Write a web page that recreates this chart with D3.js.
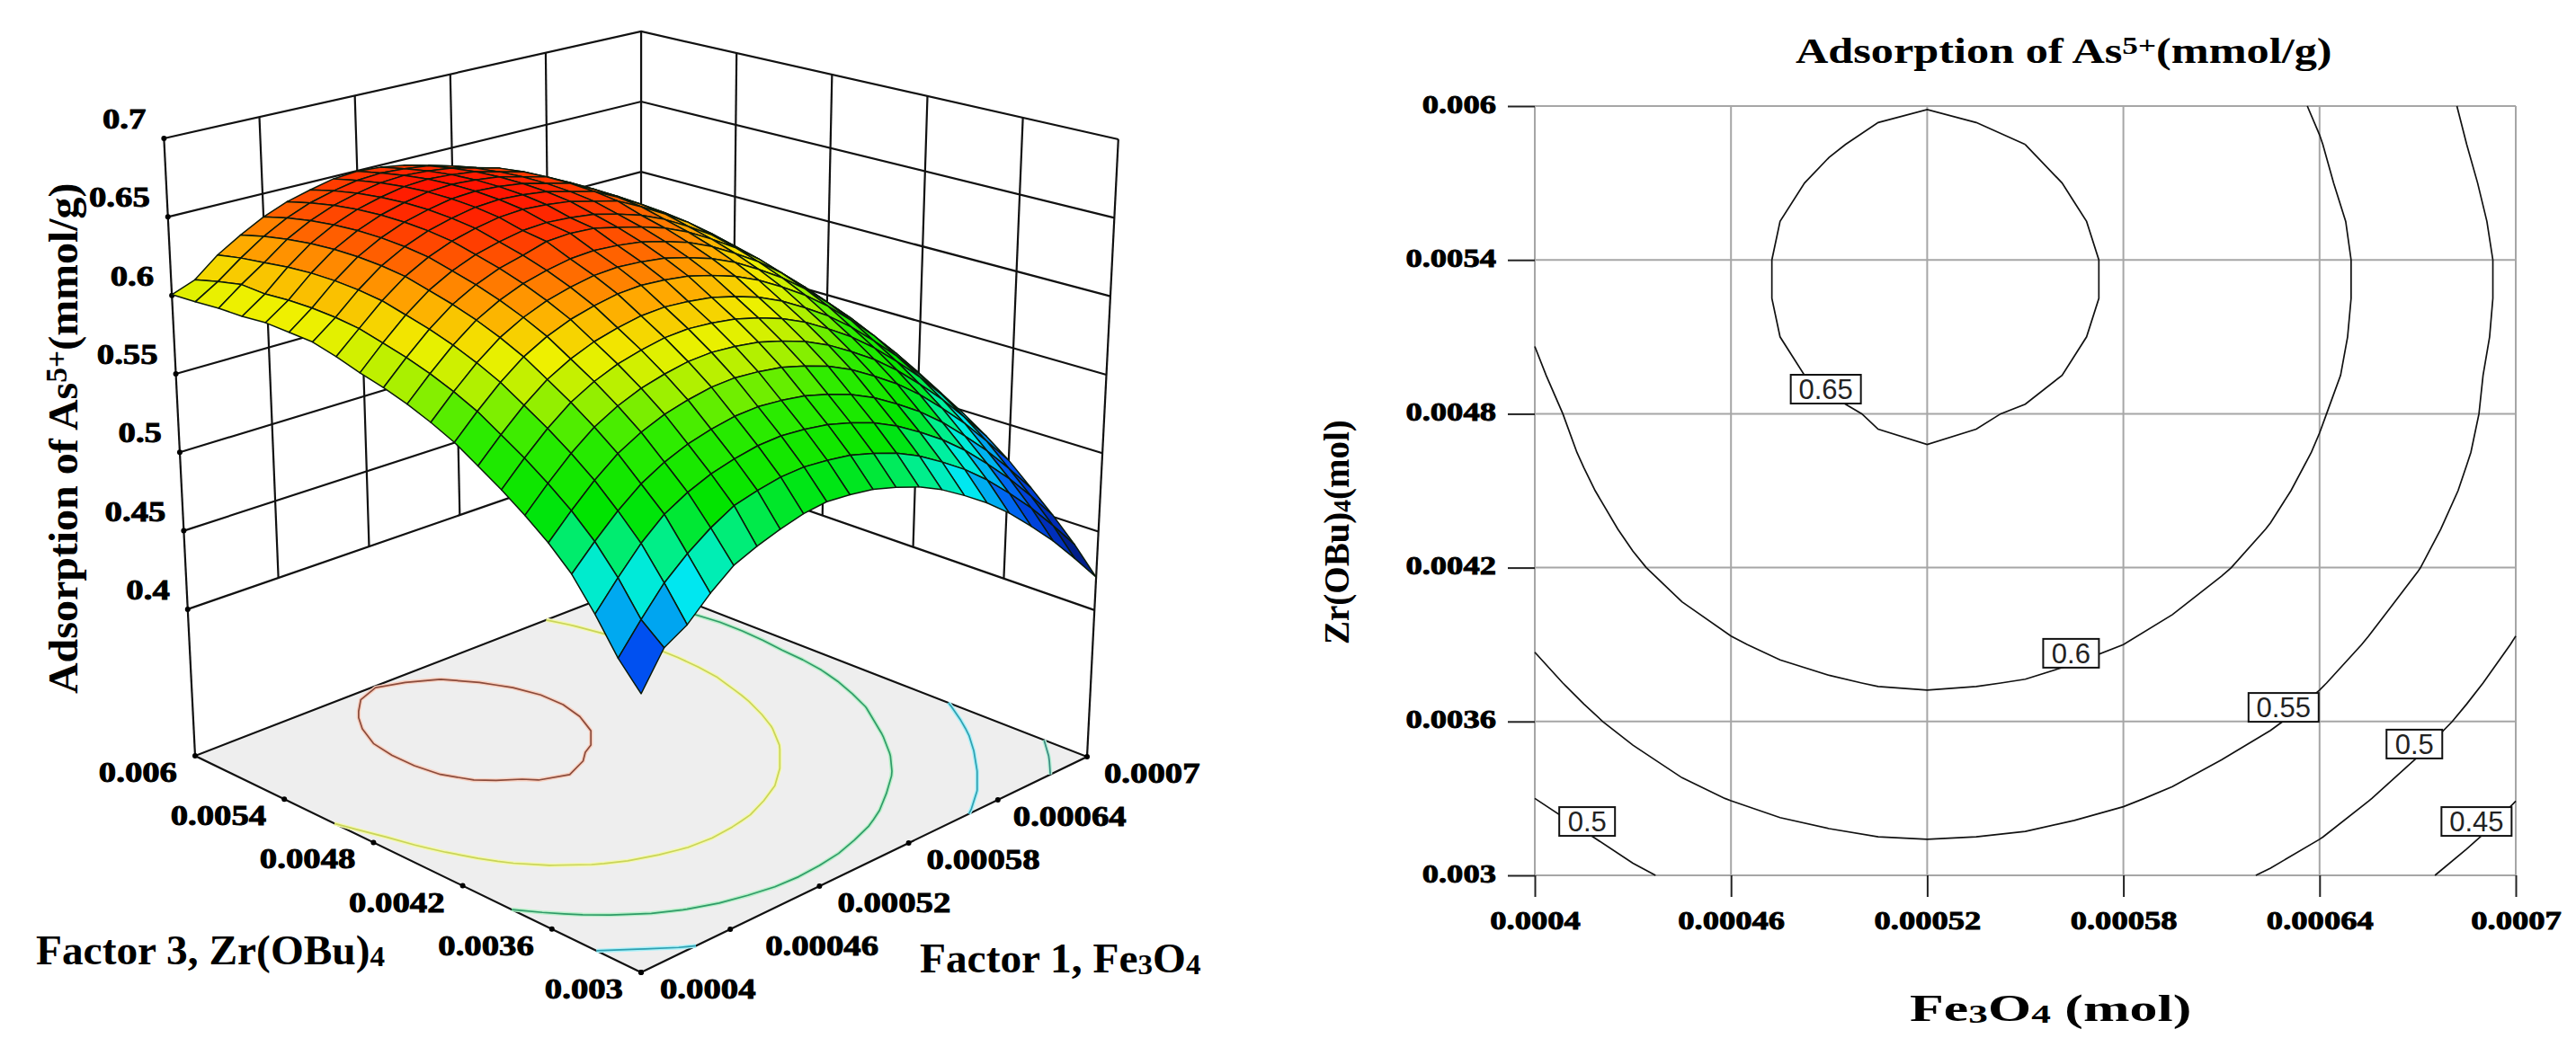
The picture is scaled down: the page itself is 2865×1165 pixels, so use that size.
<!DOCTYPE html>
<html>
<head>
<meta charset="utf-8">
<style>
  body { margin: 0; background: #fff; }
  text { font-family: "Liberation Serif", serif; font-weight: bold; fill: #000; }
</style>
<script src="https://cdn.jsdelivr.net/npm/d3@7"></script>
</head>
<body>
<svg id="chart" width="2865" height="1165"></svg>
<script>
// axis ticks
const feTicks = [0.0004, 0.00046, 0.00052, 0.00058, 0.00064, 0.0007];
const zrTicks = [0.003, 0.0036, 0.0042, 0.0048, 0.0054, 0.006];
const responseTicks = [0.4, 0.45, 0.5, 0.55, 0.6, 0.65, 0.7];
const feLabels = ["0.0004", "0.00046", "0.00052", "0.00058", "0.00064", "0.0007"];
const zrLabels = ["0.003", "0.0036", "0.0042", "0.0048", "0.0054", "0.006"];
const responseLabels = ["0.4", "0.45", "0.5", "0.55", "0.6", "0.65", "0.7"];

// response, 21 x 21 grid
// rows run from Zr = 0.003 up to 0.006, columns from Fe = 0.0004 to 0.0007
const surfaceRows = [
  [.465,.486,.494,.507,.518,.524,.529,.533,.535,.534,.532,.528,.523,.516,.507,.497,.485,.471,.456,.439,.421],
  [.480,.497,.513,.525,.535,.543,.547,.550,.551,.550,.548,.544,.539,.532,.523,.513,.501,.487,.472,.455,.437],
  [.500,.516,.531,.543,.551,.557,.561,.564,.565,.564,.562,.558,.553,.546,.537,.527,.515,.501,.486,.469,.451],
  [.518,.532,.545,.556,.564,.570,.574,.577,.578,.577,.575,.571,.566,.559,.550,.540,.528,.514,.499,.482,.464],
  [.531,.545,.558,.569,.577,.583,.587,.590,.591,.590,.588,.584,.579,.572,.563,.553,.541,.527,.512,.495,.477],
  [.542,.556,.569,.580,.588,.594,.598,.601,.602,.601,.599,.595,.590,.583,.574,.564,.552,.538,.523,.506,.488],
  [.552,.566,.579,.590,.598,.604,.608,.611,.612,.611,.609,.605,.600,.593,.584,.574,.562,.548,.533,.516,.498],
  [.561,.575,.588,.599,.607,.613,.617,.620,.621,.620,.618,.614,.609,.602,.593,.583,.571,.557,.542,.525,.507],
  [.570,.584,.597,.608,.616,.622,.626,.629,.630,.629,.627,.623,.618,.611,.602,.592,.580,.566,.551,.534,.516],
  [.577,.591,.604,.615,.623,.629,.633,.636,.637,.636,.634,.630,.625,.618,.609,.599,.587,.573,.558,.541,.523],
  [.583,.597,.610,.621,.629,.635,.639,.642,.643,.642,.640,.636,.631,.624,.615,.605,.593,.579,.564,.547,.529],
  [.588,.602,.615,.626,.634,.640,.644,.6485,.6495,.6485,.645,.641,.636,.629,.620,.610,.598,.584,.569,.5515,.534],
  [.592,.606,.619,.630,.638,.644,.648,.651,.652,.651,.649,.645,.640,.633,.624,.614,.602,.588,.573,.554,.538],
  [.597,.610,.623,.634,.642,.648,.652,.655,.656,.655,.653,.649,.645,.637,.628,.618,.606,.592,.577,.555,.540],
  [.601,.612,.625,.636,.644,.650,.654,.657,.658,.657,.655,.651,.647,.639,.630,.620,.608,.594,.579,.557,.542],
  [.602,.613,.626,.637,.645,.651,.655,.658,.659,.658,.656,.652,.648,.640,.631,.621,.609,.595,.580,.558,.543],
  [.603,.613,.626,.637,.645,.651,.655,.658,.659,.658,.656,.652,.648,.640,.631,.621,.609,.595,.580,.558,.543],
  [.602,.612,.625,.636,.644,.650,.654,.657,.658,.657,.655,.651,.647,.639,.630,.620,.608,.593,.577,.557,.540],
  [.602,.613,.623,.634,.642,.648,.652,.655,.656,.655,.653,.649,.645,.637,.628,.618,.604,.590,.574,.554,.536],
  [.601,.610,.621,.631,.639,.645,.649,.652,.653,.652,.650,.646,.641,.634,.625,.613,.601,.586,.570,.550,.532],
  [.6005,.606,.618,.627,.635,.641,.645,.6485,.6497,.6485,.646,.642,.637,.630,.621,.609,.597,.582,.566,.546,.528]
];

// contours
const contourLevels = [0.45, 0.5, 0.55, 0.6, 0.65];
const contourColors = ["#3a8a80", "#2f9fb0", "#2f9a68", "#c9d45a", "#8a4a3a"];
const contourHalos = ["#b8f0d8", "#a8f0f8", "#b8f0c8", "#f4f8b0", "#f8d0c0"];

// boxed labels on the 2D contour plot
const boxText = ["0.65", "0.6", "0.55", "0.5", "0.5", "0.45"];
const boxFe = [0.000489, 0.000564, 0.000629, 0.000416, 0.000669, 0.000688];
const boxZr = [0.004896, 0.003866, 0.003655, 0.00321, 0.003512, 0.00321];

// surface colours by response value
const colorValues = [0.42, 0.45, 0.482, 0.495, 0.51, 0.525, 0.545, 0.575, 0.592, 0.608, 0.625, 0.64, 0.66];
const colorHex = ["#001050", "#0028b0", "#0050f0", "#0098f0", "#00e8f0", "#00f0a0", "#00e400", "#30ec00", "#a8f000", "#f0f000", "#ffa800", "#ff6000", "#ff0c00"];

const zFloor = 0.3066;
const subSize = "0.7em";

const svg = d3.select("#chart");
const nCols = surfaceRows[0].length;
const nRows = surfaceRows.length;

const colorScale = d3.scaleLinear().domain(colorValues).range(colorHex);

// grid index <-> data, d3.contours puts a value at index + 0.5
const colToFe = d3.scaleLinear().domain([0, nCols - 1]).range([0.0004, 0.0007]);
const rowToZr = d3.scaleLinear().domain([0, nRows - 1]).range([0.003, 0.006]);

// ---------- 3D box projection (fitted to the corners of the picture) ----------
const uScale = d3.scaleLinear().domain([0.0004, 0.0007]).range([0, 1]);
const vScale = d3.scaleLinear().domain([0.003, 0.006]).range([0, 1]);
const wScale = d3.scaleLinear().domain([zFloor, 0.7]).range([0, 1]);

function project(fe, zr, z) {
    const u = uScale(fe), v = vScale(zr), w = wScale(z);
    const fx = 713 + 496 * u - 496 * v;
    const fy = 1082 - 240 * u - 241 * v + 48 * u * v;
    const h = 770 - 83 * u - 83 * v + 10 * u * v;
    return [fx + (fx - 712) * 0.07 * w, fy - h * w];
}

// contour polylines in data space, without the parts that run along the grid edge
function contourPieces(threshold) {
    const poly = d3.contours().size([nCols, nRows]).thresholds([threshold])(surfaceRows.flat())[0];
    const pieces = [];
    const lo = 0.5, hiX = nCols - 0.5, hiY = nRows - 0.5;
    const onEdge = (a, b) =>
        (a[0] === lo && b[0] === lo) || (a[0] === hiX && b[0] === hiX) ||
        (a[1] === lo && b[1] === lo) || (a[1] === hiY && b[1] === hiY);
    poly.coordinates.forEach(shape => shape.forEach(ring => {
        const pts = ring.map(p => [Math.min(hiX, Math.max(lo, p[0])), Math.min(hiY, Math.max(lo, p[1]))]);
        let cur = [];
        for (let i = 0; i < pts.length - 1; i++) {
            if (onEdge(pts[i], pts[i + 1])) {
                if (cur.length > 1) pieces.push(cur);
                cur = [];
            } else {
                if (!cur.length) cur.push(pts[i]);
                cur.push(pts[i + 1]);
            }
        }
        if (cur.length > 1) pieces.push(cur);
    }));
    return pieces.map(piece => piece.map(p => [colToFe(p[0] - 0.5), rowToZr(p[1] - 0.5)]));
}

const contourData = contourLevels.map((level, i) => ({
    level, color: contourColors[i], halo: contourHalos[i], pieces: contourPieces(level)
}));

// text that is stretched sideways, as in the picture
function wideText(parent, x, y, sx, size, anchor, str) {
    return parent.append("text")
        .attr("transform", `translate(${x},${y}) scale(${sx},1)`)
        .attr("text-anchor", anchor)
        .attr("font-size", size)
        .attr("stroke", "#000")
        .attr("stroke-width", 0.9)
        .text(str);
}

// writes text with small sub/superscript runs: [string, "sub"|"sup"|null]
// "back" and "down" return to the baseline after a sub or a sup
function richText(textSel, runs) {
    runs.forEach(([str, kind]) => {
        const t = textSel.append("tspan").text(str);
        if (kind === "sub") t.attr("font-size", subSize).attr("dy", "0.06em");
        if (kind === "sup") t.attr("font-size", subSize).attr("dy", "-0.38em");
        if (kind === "back") t.attr("dy", "-0.042em");
        if (kind === "down") t.attr("dy", "0.266em");
    });
}

// ---------- left panel ----------
const left = svg.append("g");
const line3d = d3.line();
const path3d = pts => line3d(pts.map(p => project(p[0], p[1], p[2])));

// walls
const walls = left.append("g").attr("fill", "none").attr("stroke", "#111").attr("stroke-width", 2.2);
walls.selectAll("path.level")
    .data(responseTicks)
    .join("path")
    .attr("class", "level")
    .attr("d", z => path3d([[0.0004, 0.006, z], [0.0007, 0.006, z], [0.0007, 0.003, z]]));
walls.selectAll("path.feLine")
    .data(feTicks.slice(1, -1))
    .join("path")
    .attr("class", "feLine")
    .attr("d", fe => path3d([[fe, 0.006, 0.4], [fe, 0.006, 0.7]]));
walls.selectAll("path.zrLine")
    .data(zrTicks.slice(1, -1))
    .join("path")
    .attr("class", "zrLine")
    .attr("d", zr => path3d([[0.0007, zr, 0.4], [0.0007, zr, 0.7]]));
walls.selectAll("path.edge")
    .data([[0.0004, 0.006], [0.0007, 0.006], [0.0007, 0.003]])
    .join("path")
    .attr("class", "edge")
    .attr("d", d => path3d([[d[0], d[1], zFloor], [d[0], d[1], 0.7]]));

// floor
const floorCorners = [[0.0004, 0.003, zFloor], [0.0007, 0.003, zFloor], [0.0007, 0.006, zFloor], [0.0004, 0.006, zFloor]];
left.append("path")
    .attr("d", path3d(floorCorners) + "Z")
    .attr("fill", "#eeeeee")
    .attr("stroke", "#111")
    .attr("stroke-width", 2.2);

// floor contours
const floorG = left.append("g").attr("fill", "none").attr("stroke-linejoin", "round");
contourData.forEach(c => {
    const d = c.pieces.map(piece => path3d(piece.map(p => [p[0], p[1], zFloor]))).join("");
    floorG.append("path").attr("d", d).attr("stroke", c.halo).attr("stroke-width", 4.5);
    floorG.append("path").attr("d", d).attr("stroke", c.color).attr("stroke-width", 1.7);
});

// tick dots
const dots = left.append("g").attr("fill", "#000");
const dotData = [
    ...responseTicks.map(z => project(0.0004, 0.006, z)),
    ...feTicks.map(fe => project(fe, 0.003, zFloor)),
    ...zrTicks.map(zr => project(0.0004, zr, zFloor))
];
dots.selectAll("circle")
    .data(dotData)
    .join("circle")
    .attr("cx", d => d[0])
    .attr("cy", d => d[1])
    .attr("r", 3);

// surface, back cells first
const cells = [];
for (let r = 0; r < nRows - 1; r++) {
    for (let c = 0; c < nCols - 1; c++) {
        const corners = [[c, r], [c + 1, r], [c + 1, r + 1], [c, r + 1]];
        cells.push({
            order: r + c,
            value: d3.mean(corners, k => surfaceRows[k[1]][k[0]]),
            points: corners.map(k => project(colToFe(k[0]), rowToZr(k[1]), surfaceRows[k[1]][k[0]]))
        });
    }
}
cells.sort((a, b) => d3.descending(a.order, b.order));
left.append("g")
    .selectAll("path")
    .data(cells)
    .join("path")
    .attr("d", d => line3d(d.points) + "Z")
    .attr("fill", d => colorScale(d.value))
    .attr("stroke", "#0b1a0b")
    .attr("stroke-width", 1.5)
    .attr("stroke-linejoin", "round");

// tick labels of the box
const zLabelDx = -20, zLabelDy = -11;
responseTicks.forEach((z, i) => {
    const p = project(0.0004, 0.006, z);
    wideText(left, p[0] + zLabelDx, p[1] + zLabelDy, 1.25, 31, "end", responseLabels[i]);
});
const feLabelDx = [21, 39, 20, 20, 17, 19];
feTicks.forEach((fe, i) => {
    const p = project(fe, 0.003, zFloor);
    wideText(left, p[0] + feLabelDx[i], p[1] + 29, 1.25, 31, "start", feLabels[i]);
});
zrTicks.forEach((zr, i) => {
    const p = project(0.0004, zr, zFloor);
    wideText(left, p[0] - 20, p[1] + 29, 1.25, 31, "end", zrLabels[i]);
});

// left panel titles
richText(
    left.append("text")
        .attr("transform", "translate(86,772) rotate(-90) scale(1.02,1)")
        .attr("font-size", 47),
    [["Adsorption of As", null], ["5+", "sup"], ["(mmol/g)", "down"]]
);
richText(
    left.append("text")
        .attr("transform", "translate(40,1073) scale(1.03,1)")
        .attr("font-size", 46),
    [["Factor 3, Zr(OBu)", null], ["4", "sub"]]
);
richText(
    left.append("text")
        .attr("transform", "translate(1023,1082) scale(1.03,1)")
        .attr("font-size", 46),
    [["Factor 1, Fe", null], ["3", "sub"], ["O", "back"], ["4", "sub"]]
);

// ---------- right panel ----------
const right = svg.append("g");
const xScale = d3.scaleLinear().domain([0.0004, 0.0007]).range([1707, 2798]);
const yScale = d3.scaleLinear().domain([0.003, 0.006]).range([974, 118]);

// grid
right.append("g")
    .selectAll("line")
    .data(feTicks)
    .join("line")
    .attr("x1", d => xScale(d))
    .attr("x2", d => xScale(d))
    .attr("y1", yScale.range()[0])
    .attr("y2", yScale.range()[1])
    .attr("stroke", "#a6a6a6")
    .attr("stroke-width", 2);
right.append("g")
    .selectAll("line")
    .data(zrTicks)
    .join("line")
    .attr("x1", xScale.range()[0])
    .attr("x2", xScale.range()[1])
    .attr("y1", d => yScale(d))
    .attr("y2", d => yScale(d))
    .attr("stroke", "#a6a6a6")
    .attr("stroke-width", 2);

// axes
const xAxis = right.append("g")
    .attr("transform", `translate(0,${yScale.range()[0]})`)
    .call(d3.axisBottom(xScale).tickValues(feTicks).tickFormat((d, i) => feLabels[i]).tickSize(24));
const yAxis = right.append("g")
    .attr("transform", `translate(${xScale.range()[0]},0)`)
    .call(d3.axisLeft(yScale).tickValues(zrTicks).tickFormat((d, i) => zrLabels[i]).tickSize(30));
[xAxis, yAxis].forEach(a => {
    a.select(".domain").remove();
    a.selectAll(".tick line").attr("stroke", "#222").attr("stroke-width", 2);
    a.selectAll("text")
        .attr("font-family", null)
        .attr("font-size", 30)
        .attr("stroke", "#000")
        .attr("stroke-width", 0.9);
});
xAxis.selectAll("text")
    .attr("x", 0).attr("y", 0).attr("dy", null)
    .attr("text-anchor", "middle")
    .attr("transform", "translate(0,60) scale(1.22,1)");
yAxis.selectAll("text")
    .attr("x", 0).attr("y", 0).attr("dy", null)
    .attr("text-anchor", "end")
    .attr("transform", "translate(-43,7) scale(1.22,1)");

// contours
const line2d = d3.line().x(d => xScale(d[0])).y(d => yScale(d[1]));
right.append("g")
    .selectAll("path")
    .data(contourData)
    .join("path")
    .attr("d", c => c.pieces.map(p => line2d(p)).join(""))
    .attr("fill", "none")
    .attr("stroke", "#111")
    .attr("stroke-width", 1.7);

// boxed contour labels
const boxes = right.append("g")
    .selectAll("g")
    .data(boxText)
    .join("g")
    .attr("transform", (d, i) => `translate(${xScale(boxFe[i])},${yScale(boxZr[i])})`);
boxes.append("rect")
    .attr("x", d => d.length > 3 ? -39 : -31)
    .attr("width", d => d.length > 3 ? 78 : 62)
    .attr("y", -16)
    .attr("height", 32)
    .attr("fill", "#fff")
    .attr("stroke", "#111")
    .attr("stroke-width", 2);
boxes.append("text")
    .attr("text-anchor", "middle")
    .attr("y", 11)
    .style("font-family", "'Liberation Sans', sans-serif")
    .style("font-weight", "normal")
    .style("fill", "#222")
    .attr("font-size", 31)
    .text(d => d);

// right panel titles
richText(
    right.append("text")
        .attr("transform", "translate(1997,70) scale(1.29,1)")
        .attr("font-size", 39),
    [["Adsorption of As", null], ["5+", "sup"], ["(mmol/g)", "down"]]
);
richText(
    right.append("text")
        .attr("transform", "translate(2124,1136) scale(1.44,1)")
        .attr("font-size", 43),
    [["Fe", null], ["3", "sub"], ["O", "back"], ["4", "sub"], [" (mol)", "back"]]
);
richText(
    right.append("text")
        .attr("transform", "translate(1500,717) rotate(-90)")
        .attr("font-size", 39),
    [["Zr(OBu)", null], ["4", "sub"], ["(mol)", "back"]]
);
</script>
</body>
</html>
